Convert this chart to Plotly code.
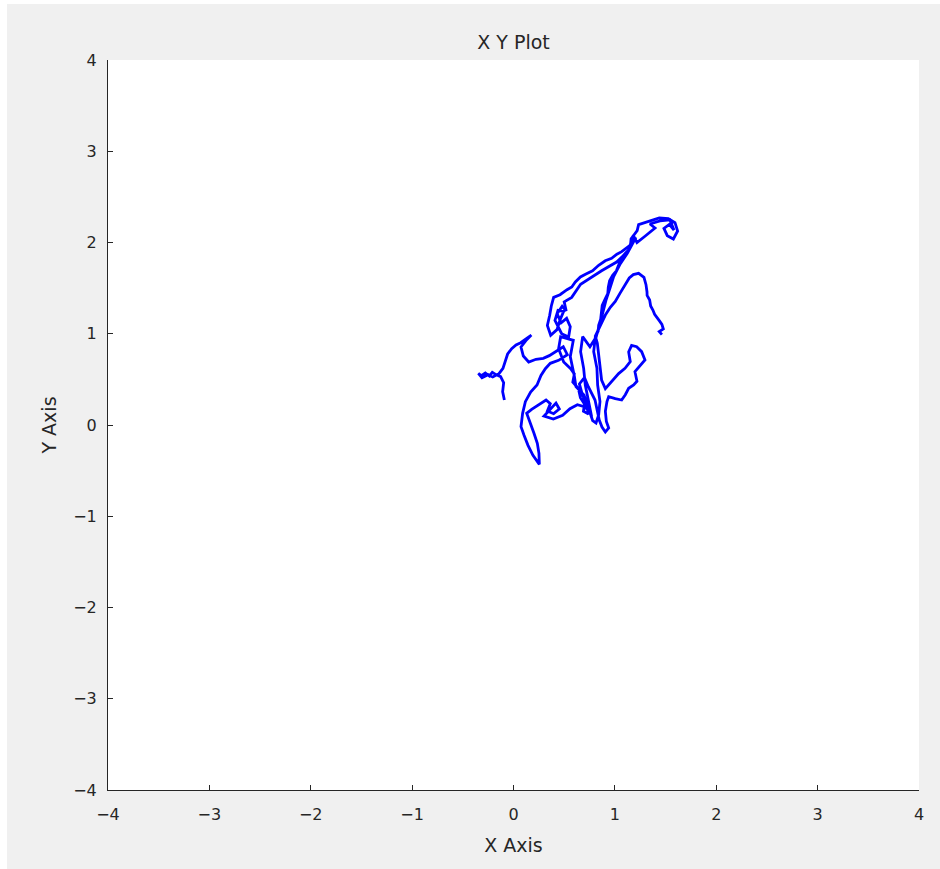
import plotly.graph_objects as go

# Random-walk trajectory (data units)
walk_x = [
    -0.090, -0.107, -0.097, -0.127, -0.173, -0.209, -0.238, -0.278, -0.317, -0.347,
    -0.311, -0.251, -0.205, -0.143, -0.104, -0.077, -0.058, -0.018, 0.025, 0.071,
    0.120, 0.176, 0.130, 0.074, 0.097, 0.150, 0.222, 0.294, 0.353, 0.432,
    0.491, 0.531, 0.445, 0.363, 0.314, 0.271, 0.232, 0.169, 0.117, 0.090,
    0.074, 0.104, 0.143, 0.192, 0.255, 0.251, 0.235, 0.202, 0.163, 0.130,
    0.179, 0.238, 0.321, 0.363, 0.334, 0.396, 0.452, 0.419, 0.301, 0.393,
    0.485, 0.557, 0.630, 0.708, 0.758, 0.781, 0.814, 0.840, 0.853, 0.830,
    0.823, 0.791, 0.807, 0.835, 0.840, 0.860, 0.866, 0.875, 0.906, 0.930,
    0.935, 0.948, 0.978, 1.015, 1.037, 1.062, 1.106, 1.140, 1.155, 1.160,
    1.188, 1.220, 1.234, 1.330, 1.438, 1.527, 1.593, 1.619, 1.577, 1.517,
    1.484, 1.537, 1.583, 1.543, 1.445, 1.346, 1.396, 1.300, 1.218, 1.182,
    1.149, 1.067, 1.020, 0.968, 0.905, 0.840, 0.780, 0.715, 0.660, 0.610,
    0.575, 0.528, 0.459, 0.396, 0.373, 0.357, 0.334, 0.367, 0.429, 0.459,
    0.495, 0.439, 0.409, 0.475, 0.544, 0.560, 0.524, 0.470, 0.430, 0.480,
    0.520, 0.500, 0.574, 0.662, 0.771,
    0.869, 1.017, 1.132, 1.208, 1.123, 1.054, 0.988, 0.948, 0.912, 0.879,
    0.846, 0.814, 0.754, 0.682, 0.662, 0.692, 0.708, 0.741, 0.771, 0.695,
    0.616, 0.600, 0.560, 0.590, 0.465, 0.445, 0.495, 0.564, 0.600, 0.585,
    0.640, 0.660, 0.700, 0.690, 0.740, 0.720, 0.680, 0.650, 0.700, 0.738, 0.804,
    0.846, 0.873, 0.906, 0.939, 0.916, 0.906, 0.922, 0.939, 1.004, 1.067,
    1.103, 1.136, 1.185, 1.218, 1.198, 1.251, 1.297, 1.264, 1.215, 1.165,
    1.136, 1.152, 1.100, 1.037, 0.971, 0.906, 0.869, 0.846, 0.827, 0.807,
    0.853, 0.906, 0.955, 1.004, 1.050, 1.103, 1.142, 1.182, 1.234, 1.287,
    1.307, 1.317, 1.318, 1.343, 1.353, 1.375, 1.392, 1.438, 1.464, 1.478, 1.438, 1.464,
]
walk_y = [
    0.274, 0.365, 0.464, 0.530, 0.552, 0.577, 0.537, 0.570, 0.541, 0.566,
    0.519, 0.552, 0.526, 0.563, 0.621, 0.701, 0.778, 0.837, 0.877, 0.902,
    0.942, 0.986, 0.935, 0.855, 0.756, 0.690, 0.720, 0.731, 0.760, 0.815,
    0.858, 0.771, 0.709, 0.676, 0.617, 0.544, 0.438, 0.362, 0.256, 0.128,
    -0.018, -0.113, -0.223, -0.332, -0.431, -0.311, -0.201, -0.091, 0.018, 0.128,
    0.172, 0.212, 0.274, 0.234, 0.153, 0.124, 0.175, 0.241, 0.099, 0.066,
    0.106, 0.179, 0.223, 0.197, 0.124, 0.047, 0.022, 0.110, 0.256, 0.438,
    0.621, 0.804, 0.964, 1.030, 1.092, 1.160, 1.238, 1.310, 1.384, 1.440,
    1.509, 1.580, 1.640, 1.690, 1.753, 1.830, 1.885, 1.925, 1.984, 2.040,
    2.082, 2.130, 2.195, 2.232, 2.269, 2.261, 2.217, 2.126, 2.038, 2.075,
    2.155, 2.199, 2.137, 2.247, 2.236, 2.203, 2.159, 2.071, 1.998, 2.079,
    1.969, 1.900, 1.872, 1.827, 1.800, 1.750, 1.690, 1.655, 1.622, 1.567,
    1.512, 1.483, 1.428, 1.399, 1.304, 1.202, 1.092, 0.983, 1.045, 1.151,
    1.246, 1.257, 1.147, 1.001, 0.964, 1.078, 1.169, 1.120, 1.220, 1.300,
    1.250, 1.350, 1.399, 1.542, 1.622,
    1.691, 1.786, 1.907, 2.057, 1.881, 1.768, 1.626, 1.487, 1.366, 1.224,
    1.074, 0.961, 0.858, 0.968, 0.804, 0.621, 0.438, 0.256, 0.091, 0.329,
    0.420, 0.537, 0.749, 0.928, 0.968, 0.837, 0.690, 0.617, 0.560, 0.470,
    0.400, 0.300, 0.230, 0.150, 0.120, 0.230, 0.330, 0.450, 0.520, 0.420, 0.274,
    0.055, -0.022, -0.077, -0.033, 0.040, 0.150, 0.256, 0.311, 0.289, 0.274,
    0.332, 0.402, 0.438, 0.479, 0.584, 0.658, 0.712, 0.804, 0.858, 0.873,
    0.800, 0.694, 0.621, 0.563, 0.475, 0.398, 0.493, 0.712, 0.895, 0.975,
    1.078, 1.205, 1.290, 1.355, 1.443, 1.534, 1.611, 1.648, 1.662, 1.618,
    1.538, 1.458, 1.420, 1.370, 1.304, 1.260, 1.213, 1.143, 1.103, 1.052, 1.023, 0.990,
]

tick_vals = [-4, -3, -2, -1, 0, 1, 2, 3, 4]
tick_text = ["\u22124", "\u22123", "\u22122", "\u22121", "0", "1", "2", "3", "4"]

FONT = "DejaVu Sans, Liberation Sans, sans-serif"
INK = "#262626"

fig = go.Figure()
fig.add_trace(go.Scatter(
    x=walk_x, y=walk_y, mode="lines",
    line=dict(color="#0000ff", width=2.8),
    showlegend=False, hoverinfo="skip",
))

axis_common = dict(
    range=[-4, 4], tickmode="array", tickvals=tick_vals, ticktext=tick_text,
    ticks="inside", ticklen=5, tickwidth=1, tickcolor=INK,
    showline=True, linecolor=INK, linewidth=1, mirror=False,
    showgrid=False, zeroline=False,
    tickfont=dict(family=FONT, size=16, color=INK),
)

fig.update_layout(
    width=940, height=869,
    margin=dict(l=108, r=21, t=60, b=79),
    paper_bgcolor="#f0f0f0", plot_bgcolor="#ffffff",
    title=dict(text="X Y Plot", x=0.5463, xanchor="center", xref="container",
               y=1 - 42 / 869, yanchor="middle", yref="container",
               font=dict(family=FONT, size=19, color=INK)),
    xaxis=dict(**axis_common, ticklabelstandoff=10,
               title=dict(text="X Axis", font=dict(family=FONT, size=19, color=INK), standoff=15)),
    yaxis=dict(**axis_common, ticklabelstandoff=7,
               title=dict(text="Y Axis", font=dict(family=FONT, size=19, color=INK), standoff=11)),
    shapes=[
        dict(type="rect", xref="paper", yref="paper", layer="below",
             x0=-0.2, x1=(7 - 108) / 811, y0=-0.2, y1=1.2,
             fillcolor="#ffffff", line=dict(width=0)),
        dict(type="rect", xref="paper", yref="paper", layer="below",
             x0=-0.2, x1=1.2, y0=1 + (60 - 4) / 730, y1=1.2,
             fillcolor="#ffffff", line=dict(width=0)),
    ],
)

fig.write_html("out.html")
